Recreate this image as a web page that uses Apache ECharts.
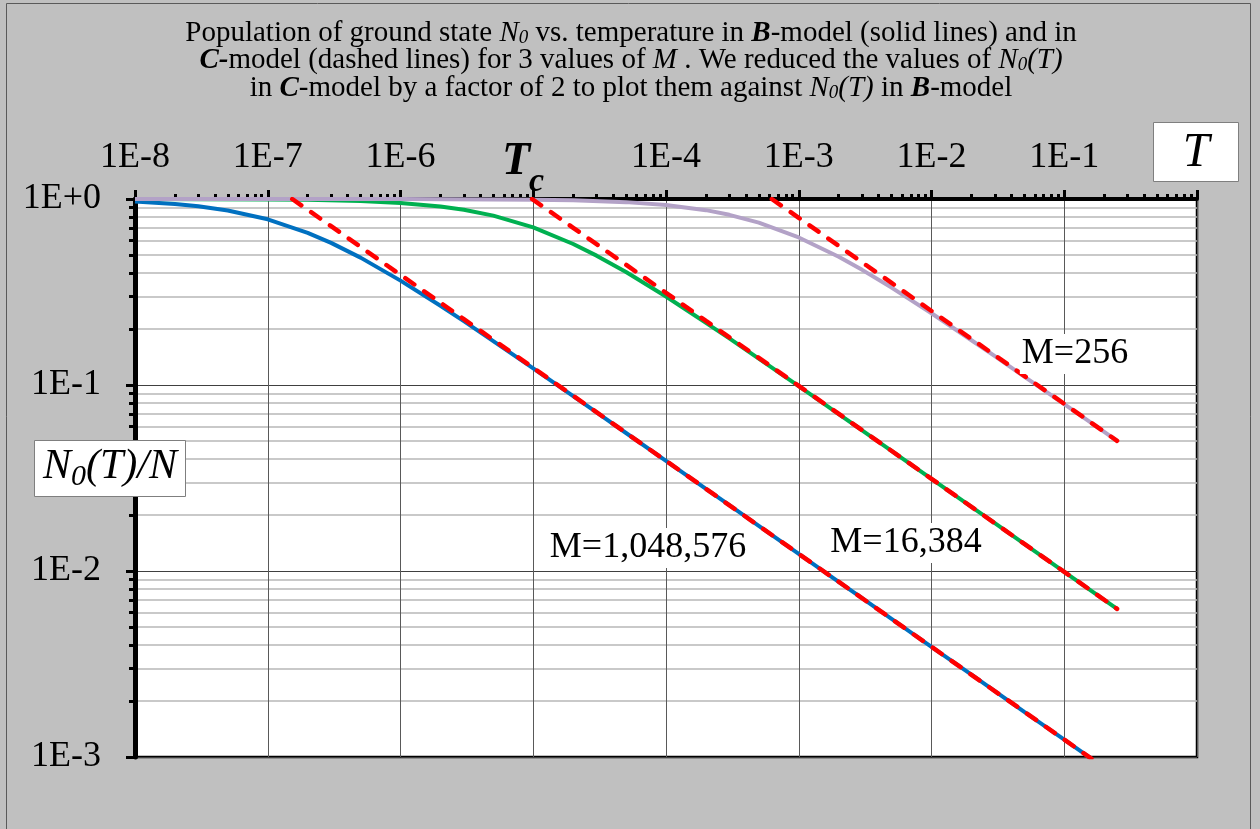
<!DOCTYPE html>
<html><head><meta charset="utf-8">
<script src="https://cdn.jsdelivr.net/npm/echarts@6/dist/echarts.min.js"></script>
<style>html,body{margin:0;padding:0;background:#c0c0c0}#c{width:1260px;height:829px}</style>
</head><body><div id="c"></div>
<script>
// ---- data ----
const xTickLabels = ['1E-8','1E-7','1E-6','','1E-4','1E-3','1E-2','1E-1',''];
const yTickLabels = ['1E-3','1E-2','1E-1','1E+0'];

// M = 1,048,576  (B-model solid, C-model dashed)
const tBlue = [1e-8,2e-8,3e-8,5e-8,1e-7,2e-7,3e-7,5e-7,1e-6,2e-6,3e-6,5e-6,1e-5,2e-5,3e-5,5e-5,1e-4,2e-4,3e-4,5e-4,1e-3,2e-3,3e-3,5e-3,1e-2,2e-2,3e-2,5e-2,0.1,0.16];
const blueB = [0.969,0.940,0.914,0.868,0.778,0.658,0.581,0.484,0.364,0.2666,0.2203,0.1723,0.1228,0.0871,0.0712,0.0552,0.0391,0.02765,0.02258,0.01749,0.01237,0.00875,0.00714,0.00553,0.00391,0.00277,0.00226,0.00175,0.00124,0.00098];
const tBlueC = [1.53e-7,2e-7,3e-7,5e-7,1e-6,2e-6,3e-6,5e-6,1e-5,1e-4,1e-3,1e-2,0.1,0.16];
const blueC = [1,0.875,0.714,0.553,0.391,0.277,0.226,0.175,0.1237,0.0391,0.01237,0.00391,0.00124,0.00098];

// M = 16,384
const tGreen = [1e-8,1e-7,2e-7,5e-7,1e-6,2e-6,3e-6,5e-6,1e-5,2e-5,3e-5,5e-5,1e-4,2e-4,3e-4,5e-4,1e-3,2e-3,3e-3,5e-3,1e-2,2e-2,3e-2,5e-2,0.1,0.2,0.25];
const greenB = [0.9995,0.995,0.990,0.9755,0.9525,0.911,0.875,0.814,0.704,0.573,0.496,0.405,0.299,0.216,0.178,0.1387,0.0985,0.0698,0.0571,0.0442,0.0313,0.0221,0.0181,0.0140,0.0099,0.0070,0.00626];
const tGreenC = [9.8e-6,2e-5,3e-5,5e-5,1e-4,2e-4,1e-3,1e-2,0.1,0.25];
const greenC = [1,0.700,0.5715,0.443,0.313,0.221,0.099,0.0313,0.0099,0.00626];

// M = 256
const tPurple = [1e-8,1e-6,1e-5,2e-5,5e-5,1e-4,2e-4,3e-4,5e-4,1e-3,2e-3,3e-3,5e-3,1e-2,2e-2,3e-2,5e-2,0.1,0.2,0.25];
const purpleB = [1.0,0.999,0.992,0.984,0.962,0.929,0.871,0.822,0.746,0.621,0.489,0.416,0.334,0.243,0.174,0.143,0.111,0.079,0.056,0.050];
const tPurpleC = [6.27e-4,1e-3,2e-3,3e-3,5e-3,1e-2,0.1,0.25];
const purpleC = [1,0.792,0.560,0.457,0.354,0.250,0.0792,0.0501];

const titleLines = [
  'Population of ground state {i|N}{s|0} vs. temperature in {b|B}-model (solid lines) and in',
  '{b|C-}model (dashed lines) for 3 values of {i|M} . We reduced the values of {i|N}{s|0}{i|(T)}',
  'in {b|C}-model by a factor of 2 to plot them against {i|N}{s|0}{i|(T)} in {b|B}-model'
];

// ---- chart ----
const FONT = '"Liberation Serif","Times New Roman",serif';
const zip = (xs, ys) => xs.map((x, i) => [x, ys[i]]);
const solid = (name, xs, ys, color) => ({
  name, type: 'line', data: zip(xs, ys), symbol: 'none', z: 2, silent: true,
  lineStyle: { color, width: 4 }
});
const dashed = (name, xs, ys) => ({
  name, type: 'line', data: zip(xs, ys), symbol: 'none', z: 3, silent: true,
  lineStyle: { color: '#ff0000', width: 4.5, type: [11, 12], cap: 'round' }
});

const TF = 29, TL = 27.5;
const chart = echarts.init(document.getElementById('c'));
chart.setOption({
  animation: false,
  backgroundColor: '#c0c0c0',
  title: {
    text: titleLines.join('\n'), left: 626, top: 14.5, textAlign: 'center',
    textStyle: {
      fontFamily: FONT, fontSize: TF, fontWeight: 'normal', color: '#000', lineHeight: TL,
      rich: {
        i: { fontFamily: FONT, fontSize: TF, fontStyle: 'italic', color: '#000', lineHeight: TL },
        s: { fontFamily: FONT, fontSize: 19, fontStyle: 'italic', color: '#000', lineHeight: 10, verticalAlign: 'bottom' },
        b: { fontFamily: FONT, fontSize: TF, fontStyle: 'italic', fontWeight: 'bold', color: '#000', lineHeight: TL }
      }
    }
  },
  grid: { left: 135, right: 63, top: 199, bottom: 72, show: true, backgroundColor: '#fff', borderColor: '#000', borderWidth: 2.5 },
  xAxis: {
    type: 'log', logBase: 10, position: 'top', min: 1e-8, max: 1, interval: 1,
    axisLine: { show: true, onZero: false, lineStyle: { color: '#000', width: 4 } },
    axisTick: { show: true, inside: false, length: 9, lineStyle: { color: '#000', width: 3 } },
    minorTick: { show: true, splitNumber: 9, length: 5, lineStyle: { color: '#000', width: 3 } },
    splitLine: { show: true, lineStyle: { color: '#595959', width: 1 } },
    minorSplitLine: { show: false },
    axisLabel: {
      margin: 23, fontFamily: FONT, fontSize: 36, color: '#000',
      formatter: v => xTickLabels[Math.round(Math.log10(v)) + 8] || ''
    }
  },
  yAxis: {
    type: 'log', logBase: 10, min: 1e-3, max: 1, interval: 1,
    axisLine: { show: true, onZero: false, lineStyle: { color: '#000', width: 5 } },
    axisTick: { show: true, inside: false, length: 9, lineStyle: { color: '#000', width: 3 } },
    minorTick: { show: true, splitNumber: 9, length: 6, lineStyle: { color: '#000', width: 3 } },
    splitLine: { show: true, lineStyle: { color: '#404040', width: 1 } },
    minorSplitLine: { show: true, lineStyle: { color: '#b8b8b8', width: 1.5 } },
    axisLabel: {
      margin: 34, fontFamily: FONT, fontSize: 36, color: '#000',
      formatter: v => yTickLabels[Math.round(Math.log10(v)) + 3] || ''
    }
  },
  series: [
    solid('B M=1,048,576', tBlue, blueB, '#0070c0'),
    solid('B M=16,384', tGreen, greenB, '#00b050'),
    solid('B M=256', tPurple, purpleB, '#b3a2c7'),
    dashed('C M=1,048,576', tBlueC, blueC),
    dashed('C M=16,384', tGreenC, greenC),
    dashed('C M=256', tPurpleC, purpleC)
  ],
  graphic: [
    { type: 'rect', z: 100, silent: true, shape: { x: 6.5, y: 3.5, width: 1244, height: 900 }, style: { fill: 'none', stroke: '#5a5a5a', lineWidth: 1 } },
    // x axis name box "T"
    { type: 'rect', z: 100, shape: { x: 1153.5, y: 122.5, width: 85, height: 59 }, style: { fill: '#fff', stroke: '#7f7f7f', lineWidth: 1 } },
    { type: 'text', z: 101, x: 1196, y: 153, style: { text: 'T', fontFamily: FONT, fontSize: 48, fontStyle: 'italic', fill: '#000', align: 'center', verticalAlign: 'middle' } },
    // Tc label
    { type: 'text', z: 101, x: 502, y: 162, style: { text: 'T', fontFamily: FONT, fontSize: 46, fontStyle: 'italic', fontWeight: 'bold', fill: '#000', align: 'left', verticalAlign: 'middle' } },
    { type: 'text', z: 101, x: 529, y: 182, style: { text: 'c', fontFamily: FONT, fontSize: 34, fontStyle: 'italic', fontWeight: 'bold', fill: '#000', align: 'left', verticalAlign: 'middle' } },
    // y axis name box
    { type: 'rect', z: 100, shape: { x: 34.5, y: 440.5, width: 151, height: 56 }, style: { fill: '#fff', stroke: '#7f7f7f', lineWidth: 1 } },
    { type: 'text', z: 101, x: 110, y: 467, style: {
      text: '{n|N}{s|0}{n|(T)/N}', align: 'center', verticalAlign: 'middle',
      rich: {
        n: { fontFamily: FONT, fontSize: 42, fontStyle: 'italic', fill: '#000', color: '#000', lineHeight: 50 },
        s: { fontFamily: FONT, fontSize: 30, fontStyle: 'italic', fill: '#000', color: '#000', lineHeight: 22, verticalAlign: 'bottom' }
      } } },
    // curve labels
    { type: 'text', z: 101, x: 1075, y: 354, style: { text: 'M=256', fontFamily: FONT, fontSize: 36, fill: '#000', align: 'center', verticalAlign: 'middle', backgroundColor: '#fff', padding: [2, 2] } },
    { type: 'text', z: 101, x: 906, y: 543, style: { text: 'M=16,384', fontFamily: FONT, fontSize: 36, fill: '#000', align: 'center', verticalAlign: 'middle', backgroundColor: '#fff', padding: [2, 2] } },
    { type: 'text', z: 101, x: 648, y: 548, style: { text: 'M=1,048,576', fontFamily: FONT, fontSize: 36, fill: '#000', align: 'center', verticalAlign: 'middle', backgroundColor: '#fff', padding: [2, 2] } }
  ]
});
</script></body></html>
